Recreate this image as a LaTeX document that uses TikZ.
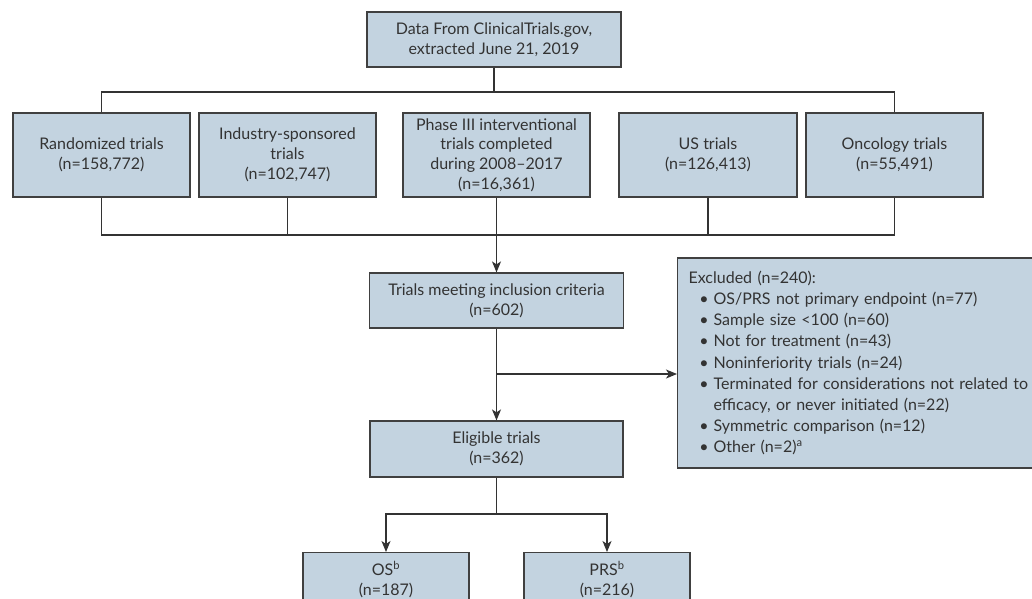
\documentclass[tikz,border=0pt]{standalone}
\usepackage{fontspec}
\setmainfont{Lato}
\usetikzlibrary{arrows.meta}
\definecolor{boxfill}{HTML}{C3D3E0}
\definecolor{boxline}{HTML}{404040}
\definecolor{txt}{HTML}{333333}
\tikzset{
  box/.style={draw=boxline, line width=1.2pt, fill=boxfill, text=txt, align=center,
    font=\fontsize{16}{19.8}\selectfont, inner sep=0pt},
  conn/.style={draw=txt, line width=1.2pt},
  arr/.style={conn, -{Stealth[length=11pt,width=9pt,inset=3pt]}}
}
\begin{document}
\begin{tikzpicture}[x=1pt,y=-1pt]
\clip (0,0) rectangle (1032,598);
\fill[white] (0,0) rectangle (1032,598);
\node[box, minimum width=254pt, minimum height=55pt] (top) at (494,39.5) {Data From ClinicalTrials.gov,\\extracted June 21, 2019};
\node[box, minimum width=177pt, minimum height=84pt] (rand) at (101.5,155) {Randomized trials\\(n=158,772)};
\node[box, minimum width=177pt, minimum height=84pt] (ind) at (287.5,155) {Industry-sponsored\\trials\\(n=102,747)};
\node[box, minimum width=187pt, minimum height=84pt] (phase) at (496.5,155) {Phase III interventional\\trials completed\\during 2008--2017\\(n=16,361)};
\node[box, minimum width=178pt, minimum height=84pt] (us) at (708,155) {US trials\\(n=126,413)};
\node[box, minimum width=177pt, minimum height=84pt] (onc) at (894.5,155) {Oncology trials\\(n=55,491)};
\node[box, minimum width=254pt, minimum height=55pt] (incl) at (496.5,300.5) {Trials meeting inclusion criteria\\(n=602)};
\node[box, minimum width=253pt, minimum height=56pt] (elig) at (496.5,449) {Eligible trials\\(n=362)};
\node[box, minimum width=166pt, minimum height=70pt, anchor=north] (os) at (386,552) {\rule{0pt}{23pt}OS\textsuperscript{b}\\(n=187)\\[17pt]};
\node[box, minimum width=166pt, minimum height=70pt, anchor=north] (prs) at (607,552) {\rule{0pt}{23pt}PRS\textsuperscript{b}\\(n=216)\\[17pt]};
\node[box, anchor=west, minimum width=363pt, minimum height=210pt, text width=341pt, align=left,
  font=\fontsize{16}{21.2}\selectfont] (excl) at (677,363) {%
Excluded (n=240):\\
\makebox[25pt][r]{\textbullet\hspace{5pt}}OS/PRS not primary endpoint (n=77)\\
\makebox[25pt][r]{\textbullet\hspace{5pt}}Sample size <100 (n=60)\\
\makebox[25pt][r]{\textbullet\hspace{5pt}}Not for treatment (n=43)\\
\makebox[25pt][r]{\textbullet\hspace{5pt}}Noninferiority trials (n=24)\\
\makebox[25pt][r]{\textbullet\hspace{5pt}}Terminated for considerations not related to\\
\hspace*{25pt}efficacy, or never initiated (n=22)\\
\makebox[25pt][r]{\textbullet\hspace{5pt}}Symmetric comparison (n=12)\\
\makebox[25pt][r]{\textbullet\hspace{5pt}}Other (n=2)\textsuperscript{a}};
% top distribution
\coordinate (hl) at (101.5,92);
\coordinate (hr) at (894.5,92);
\draw[conn] (rand.north) -- (hl) -- (hr) -- (onc.north);
\draw[conn] (top.south) -- (top.south |- hl);
% bottom collection
\coordinate (bl) at (101.5,235);
\coordinate (br) at (894.5,235);
\draw[conn] (rand.south) -- (bl) -- (br) -- (onc.south);
\draw[conn] (ind.south) -- (ind.south |- bl);
\draw[conn] (us.south) -- (us.south |- bl);
\draw[arr] (phase.south) -- (incl.north);
% inclusion to eligible and excluded
\draw[arr] (incl.south) -- (elig.north);
\coordinate (br2) at (496.5,374);
\draw[arr] (br2) -- (br2 -| excl.west);
% eligible to OS/PRS
\coordinate (sp) at (496.5,514);
\draw[conn] (elig.south) -- (sp);
\draw[arr] (sp) -| (os.north);
\draw[arr] (sp) -| (prs.north);
\end{tikzpicture}
\end{document}
